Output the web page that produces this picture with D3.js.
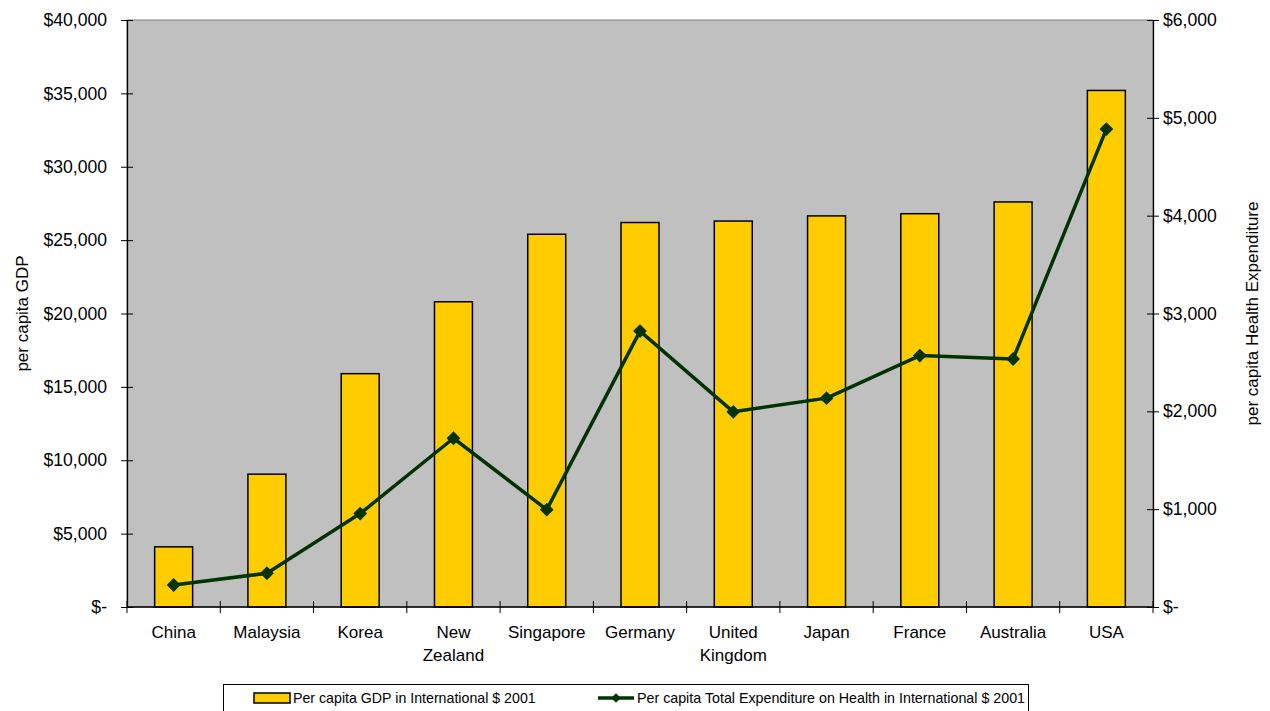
<!DOCTYPE html>
<html>
<head>
<meta charset="utf-8">
<script src="https://cdn.jsdelivr.net/npm/d3@7"></script>
<style>
  html, body { margin: 0; padding: 0; background: #fff; }
  svg { display: block; font-family: "Liberation Sans", Arial, sans-serif; }
</style>
</head>
<body>
<svg id="chart" width="1270" height="711"></svg>
<script>
// Per capita GDP vs. per capita health expenditure, 2001 (International $)
const countries = ["China", "Malaysia", "Korea", "New Zealand", "Singapore", "Germany",
                   "United Kingdom", "Japan", "France", "Australia", "USA"];
const countryLabels = [["China"], ["Malaysia"], ["Korea"], ["New", "Zealand"], ["Singapore"],
                       ["Germany"], ["United", "Kingdom"], ["Japan"], ["France"], ["Australia"], ["USA"]];
const gdpPerCapita = [4100, 9050, 15900, 20800, 25400, 26200, 26300, 26650, 26800, 27600, 35200];
const healthPerCapita = [225, 345, 955, 1725, 995, 2820, 1995, 2135, 2570, 2535, 4885];
const gdpTicks = [0, 5000, 10000, 15000, 20000, 25000, 30000, 35000, 40000];
const healthTicks = [0, 1000, 2000, 3000, 4000, 5000, 6000];
const seriesNames = ["Per capita GDP in International $ 2001",
                     "Per capita Total Expenditure on Health in International $ 2001"];

const svg = d3.select("#chart");
const plot = { left: 127, right: 1153, top: 20, bottom: 607 };

const x = d3.scaleBand().domain(countries).range([plot.left, plot.right])
  .paddingInner(0.593).paddingOuter(0.2965);
const yL = d3.scaleLinear().domain([0, 40000]).range([plot.bottom, plot.top]);
const yR = d3.scaleLinear().domain([0, 6000]).range([plot.bottom, plot.top]);

const money = v => v === 0 ? "$-" : "$" + d3.format(",")(v);

// plot background
svg.append("rect")
  .attr("x", plot.left).attr("y", plot.top)
  .attr("width", plot.right - plot.left).attr("height", plot.bottom - plot.top)
  .attr("fill", "#c0c0c0").attr("stroke", "#808080").attr("stroke-width", 1);

// bars
svg.append("g").selectAll("rect").data(countries).join("rect")
  .attr("x", d => x(d))
  .attr("y", (d, i) => yL(gdpPerCapita[i]))
  .attr("width", x.bandwidth())
  .attr("height", (d, i) => plot.bottom - yL(gdpPerCapita[i]))
  .attr("fill", "#ffcc00").attr("stroke", "#000").attr("stroke-width", 1.5);

// left axis
const leftAxis = d3.axisLeft(yL).tickValues(gdpTicks).tickFormat(money)
  .tickSizeInner(6).tickSizeOuter(0).tickPadding(14);
const gL = svg.append("g").attr("transform", `translate(${plot.left},0)`).call(leftAxis);
gL.select(".domain").attr("stroke", "#000").attr("stroke-width", 1.3);
gL.selectAll(".tick line").attr("x2", -6).attr("x1", 6).attr("stroke", "#000");
gL.selectAll(".tick text").attr("font-size", 17.6).attr("fill", "#000")
  .attr("font-family", "Liberation Sans, Arial, sans-serif");

// right axis
const rightAxis = d3.axisRight(yR).tickValues(healthTicks).tickFormat(money)
  .tickSizeInner(6).tickSizeOuter(0).tickPadding(4);
const gR = svg.append("g").attr("transform", `translate(${plot.right},0)`).call(rightAxis);
gR.select(".domain").attr("stroke", "#000").attr("stroke-width", 1.3);
gR.selectAll(".tick line").attr("x1", -6).attr("x2", 6).attr("stroke", "#000");
gR.selectAll(".tick text").attr("font-size", 17.6).attr("fill", "#000")
  .attr("font-family", "Liberation Sans, Arial, sans-serif");

// bottom axis: ticks at category boundaries
const gB = svg.append("g");
gB.append("line").attr("x1", plot.left).attr("x2", plot.right)
  .attr("y1", plot.bottom).attr("y2", plot.bottom).attr("stroke", "#000").attr("stroke-width", 1.3);
const bounds = countries.map(c => x(c) - x.step() * x.paddingInner() / 2).concat([plot.right]);
gB.selectAll("line.tk").data(bounds).join("line").attr("class", "tk")
  .attr("x1", d => d).attr("x2", d => d)
  .attr("y1", plot.bottom - 6).attr("y2", plot.bottom + 6).attr("stroke", "#000");
const labels = gB.selectAll("text.cat").data(countries).join("text").attr("class", "cat")
  .attr("x", d => x(d) + x.bandwidth() / 2)
  .attr("y", 638)
  .attr("text-anchor", "middle").attr("font-size", 17).attr("fill", "#000");
labels.each(function(d, i) {
  const t = d3.select(this);
  countryLabels[i].forEach((line, j) => {
    t.append("tspan").attr("x", x(d) + x.bandwidth() / 2).attr("dy", j === 0 ? 0 : 23).text(line);
  });
});

// health expenditure line
const lineGen = d3.line()
  .x((d, i) => x(countries[i]) + x.bandwidth() / 2)
  .y(d => yR(d));
svg.append("path").datum(healthPerCapita)
  .attr("d", lineGen).attr("fill", "none")
  .attr("stroke", "#003300").attr("stroke-width", 3.5).attr("stroke-linejoin", "round");
svg.append("g").selectAll("path").data(healthPerCapita).join("path")
  .attr("d", d3.symbol().type(d3.symbolSquare).size(95))
  .attr("transform", (d, i) => `translate(${x(countries[i]) + x.bandwidth() / 2},${yR(d)}) rotate(45)`)
  .attr("fill", "#003300");

// axis titles
svg.append("text")
  .attr("transform", `translate(28,${(plot.top + plot.bottom) / 2}) rotate(-90)`)
  .attr("text-anchor", "middle").attr("font-size", 17).attr("fill", "#000")
  .text("per capita GDP");
svg.append("text")
  .attr("transform", `translate(1258,${(plot.top + plot.bottom) / 2}) rotate(-90)`)
  .attr("text-anchor", "middle").attr("font-size", 17).attr("fill", "#000")
  .text("per capita Health Expenditure");

// legend
const lg = svg.append("g");
lg.append("rect").attr("x", 223.5).attr("y", 684.5).attr("width", 805).attr("height", 40)
  .attr("fill", "#fff").attr("stroke", "#000").attr("stroke-width", 1);
lg.append("rect").attr("x", 254).attr("y", 693).attr("width", 36).attr("height", 10)
  .attr("fill", "#ffcc00").attr("stroke", "#000").attr("stroke-width", 1.5);
lg.append("text").attr("x", 293).attr("y", 703).attr("font-size", 14.2).attr("fill", "#000")
  .text(seriesNames[0]);
lg.append("line").attr("x1", 598).attr("x2", 634).attr("y1", 698).attr("y2", 698)
  .attr("stroke", "#003300").attr("stroke-width", 3.5);
lg.append("path").attr("d", d3.symbol().type(d3.symbolSquare).size(45))
  .attr("transform", "translate(616,698) rotate(45)").attr("fill", "#003300");
lg.append("text").attr("x", 637).attr("y", 703).attr("font-size", 14.2).attr("fill", "#000")
  .attr("textLength", 388).attr("lengthAdjust", "spacingAndGlyphs")
  .text(seriesNames[1]);
</script>
</body>
</html>
